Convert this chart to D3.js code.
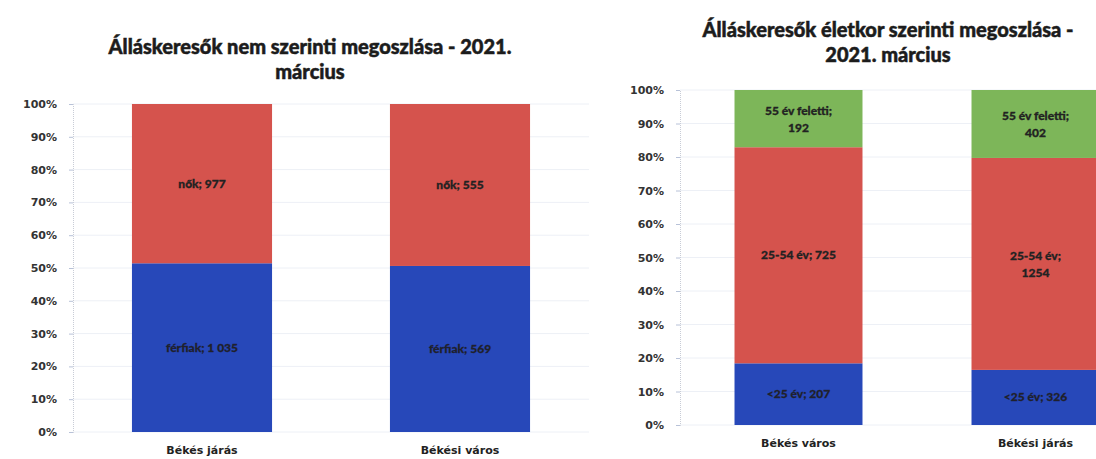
<!DOCTYPE html>
<html lang="hu">
<head>
  <meta charset="UTF-8">
  <title>Álláskeresők megoszlása - 2021. március</title>
  <script src="https://d3js.org/d3.v7.min.js"></script>
  <style>
    body { margin: 0; padding: 0; background: #fff; }
    svg { display: block; }
    .title { font-family: Lato, 'Open Sans', sans-serif; font-weight: 900; font-size: 20px; fill: #1c1c1c; stroke: #1c1c1c; stroke-width: 0.5px; }
    .tick-label { font-family: 'DejaVu Sans', sans-serif; font-weight: bold; font-size: 11px; fill: #333; }
    .cat-label { font-family: 'DejaVu Sans', sans-serif; font-weight: bold; font-size: 11px; fill: #222; }
    .seg-label { font-family: Lato, sans-serif; font-weight: 900; font-size: 12px; fill: #222; stroke-width: 0.3px; }
  </style>
</head>
<body>
  <svg id="chart" width="1096" height="459"></svg>

  <script>
    // Nem szerinti megoszlás
    const genderCats = ['Békés járás', 'Békési város'];
    const genderSeries = ['férfiak', 'nők'];
    const men = [1035, 569];
    const women = [977, 555];

    // Életkor szerinti megoszlás
    const ageCats = ['Békés város', 'Békési járás'];
    const ageSeries = ['<25 év', '25-54 év', '55 év feletti'];
    const under25 = [207, 326];
    const age2554 = [725, 1254];
    const over55 = [192, 402];

    const pctTicks = [0, 0.1, 0.2, 0.3, 0.4, 0.5, 0.6, 0.7, 0.8, 0.9, 1];

    const colors = ['#2748b9', '#d5534d', '#7db659'];

    const svg = d3.select('#chart');

    function fmt(v) {
      // Excel-style thousand separator with space
      return v >= 1000 && v < 1100 ? d3.format(',')(v).replace(',', ' ') : String(v);
    }

    function drawChart(opts) {
      const { cats, series, values, titleLines, titleX, titleY, xRange, yRange, pad, sepThousands } = opts;
      const g = svg.append('g');

      const x = d3.scaleBand()
        .domain(cats)
        .range(xRange)
        .paddingInner(pad)
        .paddingOuter(pad / 2);

      const y = d3.scaleLinear()
        .domain([0, 1])
        .range(yRange);

      // grid
      g.append('g')
        .selectAll('line')
        .data(pctTicks)
        .join('line')
        .attr('x1', xRange[0])
        .attr('x2', xRange[1])
        .attr('y1', d => y(d))
        .attr('y2', d => y(d))
        .attr('stroke', '#edf0f6')
        .attr('stroke-width', 1);

      // y axis
      const axis = g.append('g')
        .attr('transform', `translate(${xRange[0]},0)`)
        .call(d3.axisLeft(y).tickValues(pctTicks).tickFormat(d3.format('.0%')).tickSize(4).tickPadding(12));
      axis.select('.domain').attr('stroke', '#c8ccd6').attr('stroke-dasharray', '1,1');
      axis.selectAll('.tick line').attr('stroke', '#b8c2d8');
      axis.selectAll('.tick text').attr('class', 'tick-label').attr('fill', null);

      // stack
      const rows = cats.map((c, i) => {
        const row = { cat: c };
        series.forEach((s, j) => { row[s] = values[j][i]; });
        return row;
      });
      const stacked = d3.stack().keys(series).offset(d3.stackOffsetExpand)(rows);

      const layer = g.append('g')
        .selectAll('g')
        .data(stacked)
        .join('g')
        .attr('fill', (d, i) => colors[i]);

      layer.selectAll('rect')
        .data(d => d)
        .join('rect')
        .attr('x', d => x(d.data.cat))
        .attr('y', d => y(d[1]))
        .attr('width', x.bandwidth())
        .attr('height', d => y(d[0]) - y(d[1]));

      // segment labels
      const maxChars = x.bandwidth() / 9.5;
      stacked.forEach((s, j) => {
        s.forEach((d, i) => {
          const v = values[j][i];
          const num = sepThousands ? fmt(v) : String(v);
          const full = `${series[j]}; ${num}`;
          const lines = full.length > maxChars ? [`${series[j]};`, num] : [full];
          const cx = x(d.data.cat) + x.bandwidth() / 2;
          const cy = (y(d[0]) + y(d[1])) / 2;
          const col = j === 0 ? '#1a1f4a' : '#222';
          const t = g.append('text')
            .attr('class', 'seg-label')
            .attr('text-anchor', 'middle')
            .attr('x', cx)
            .attr('y', cy - (lines.length - 1) * 8 + 4)
            .attr('fill', col)
            .attr('stroke', col);
          lines.forEach((l, k) => {
            t.append('tspan').attr('x', cx).attr('dy', k === 0 ? 0 : 17).text(l);
          });
        });
      });

      // category labels
      g.append('g')
        .selectAll('text')
        .data(cats)
        .join('text')
        .attr('class', 'cat-label')
        .attr('text-anchor', 'middle')
        .attr('x', d => x(d) + x.bandwidth() / 2)
        .attr('y', yRange[0] + 22)
        .text(d => d);

      // title
      g.append('g')
        .selectAll('text')
        .data(titleLines)
        .join('text')
        .attr('class', 'title')
        .attr('text-anchor', 'middle')
        .attr('x', titleX)
        .attr('y', (d, i) => titleY + i * 25)
        .text(d => d);
    }

    drawChart({
      cats: genderCats,
      series: genderSeries,
      values: [men, women],
      titleLines: ['Álláskeresők nem szerinti megoszlása - 2021.', 'március'],
      titleX: 310,
      titleY: 54,
      xRange: [73, 589],
      yRange: [432, 104],
      pad: 0.457,
      sepThousands: true
    });

    drawChart({
      cats: ageCats,
      series: ageSeries,
      values: [under25, age2554, over55],
      titleLines: ['Álláskeresők életkor szerinti megoszlása -', '2021. március'],
      titleX: 888,
      titleY: 37,
      xRange: [680, 1154],
      yRange: [425, 90],
      pad: 0.46,
      sepThousands: false
    });
  </script>
</body>
</html>
